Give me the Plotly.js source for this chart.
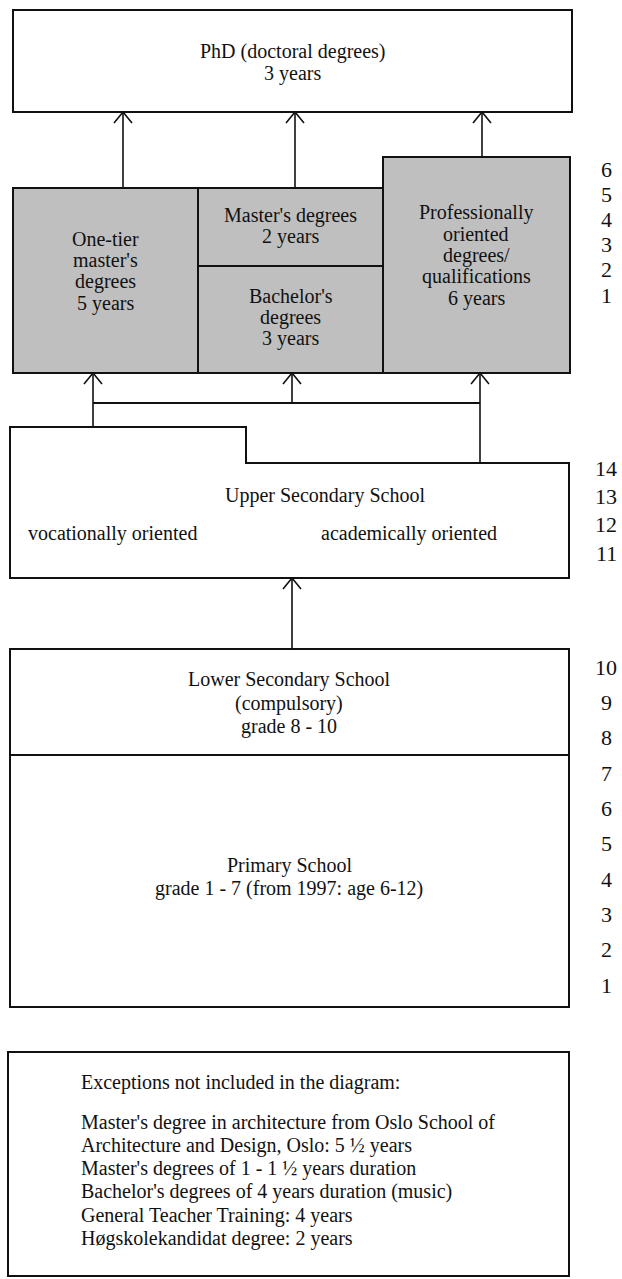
<!DOCTYPE html>
<html>
<head>
<meta charset="utf-8">
<script src="https://cdn.plot.ly/plotly-3.0.1.min.js"></script>
<style>html,body{margin:0;padding:0;background:#fff;}#chart{width:622px;height:1279px;}</style>
</head>
<body>
<div id="chart"></div>
<script>
// ---- content (text and year numbers) ----
const phdLines = ["PhD (doctoral degrees)", "3 years"];
const oneTierLines = ["One-tier", "master's", "degrees", "5 years"];
const mastersLines = ["Master's degrees", "2 years"];
const bachelorLines = ["Bachelor's", "degrees", "3 years"];
const professionalLines = ["Professionally", "oriented", "degrees/", "qualifications", "6 years"];
const upperTitle = "Upper Secondary School";
const upperTracks = ["vocationally oriented", "academically oriented"];
const lowerSecLines = ["Lower Secondary School", "(compulsory)", "grade 8 - 10"];
const primaryLines = ["Primary School", "grade 1 - 7 (from 1997: age 6-12)"];
const higherYears = ["6", "5", "4", "3", "2", "1"];
const upperYears = ["14", "13", "12", "11"];
const schoolYears = ["10", "9", "8", "7", "6", "5", "4", "3", "2", "1"];
const exceptionsTitle = "Exceptions not included in the diagram:";
const exceptionLines = [
  "Master's degree in architecture from Oslo School of",
  "Architecture and Design, Oslo: 5 \u00BD years",
  "Master's degrees of 1 - 1 \u00BD years duration",
  "Bachelor's degrees of 4 years duration (music)",
  "General Teacher Training: 4 years",
  "H\u00F8gskolekandidat degree: 2 years"
];

// ---- geometry of the diagram (pixel-like axis units) ----
const G = {
  leftTop: 13, left: 10, right: 569,
  phd: {y0: 10, y1: 112, right: 572},
  higher: {top: 188, topProf: 157, bottom: 373, div1: 198, div2: 383, mid: 266},
  phdArrowX: [123, 295, 482],
  connY: 403,
  upper: {top: 427, step: 463, stepX: 246, bottom: 578},
  upArrowX: [93, 292, 480],
  lower: {top: 649, div: 755, bottom: 1007},
  exc: {left: 8, top: 1052, bottom: 1276},
  yearX: 606
};
const FONT = "Liberation Serif, Times New Roman, serif";
const INK = "#111";
const GRAY = "#bfbfbf";

const shapes = [];
const annotations = [];

function rect(x0, y0, x1, y1, fill) {
  shapes.push({type: "rect", xref: "x", yref: "y", x0, y0, x1, y1,
    line: {color: INK, width: 2}, fillcolor: fill || "rgba(0,0,0,0)", layer: "below"});
}
function seg(x0, y0, x1, y1, w) {
  shapes.push({type: "line", xref: "x", yref: "y", x0, y0, x1, y1,
    line: {color: INK, width: w || 1.6}});
}
function arrowUp(x, yFrom, yTo) {
  seg(x, yFrom, x, yTo, 1.6);
  shapes.push({type: "path", xref: "x", yref: "y",
    path: `M${x - 9},${yTo + 11} L${x},${yTo} L${x + 9},${yTo + 11}`,
    line: {color: INK, width: 1.6}});
}
function textLines(lines, cx, cy, spacing, anchor, size) {
  const n = lines.length;
  lines.forEach((t, i) => {
    annotations.push({xref: "x", yref: "y", x: cx, y: cy + (i - (n - 1) / 2) * spacing,
      text: t, showarrow: false, xanchor: anchor || "center", yanchor: "middle",
      font: {family: FONT, size: size || 20, color: INK}});
  });
}
function yearColumn(labels, yFirst, yLast) {
  const n = labels.length;
  labels.forEach((t, i) => {
    annotations.push({xref: "x", yref: "y", x: G.yearX,
      y: yFirst + (n > 1 ? i * (yLast - yFirst) / (n - 1) : 0),
      text: t, showarrow: false, xanchor: "center", yanchor: "middle",
      font: {family: FONT, size: 22, color: INK}});
  });
}

// PhD box
rect(G.leftTop, G.phd.y0, G.phd.right, G.phd.y1);
textLines(phdLines, (G.leftTop + G.phd.right) / 2, 62, 22);

// higher education boxes (grey)
const H = G.higher;
rect(G.leftTop, H.top, H.div1, H.bottom, GRAY);
rect(H.div1, H.top, H.div2, H.mid, GRAY);
rect(H.div1, H.mid, H.div2, H.bottom, GRAY);
rect(H.div2, H.topProf, G.right + 1, H.bottom, GRAY);
textLines(oneTierLines, (G.leftTop + H.div1) / 2, 271, 21.5);
textLines(mastersLines, (H.div1 + H.div2) / 2, 226, 21.5);
textLines(bachelorLines, (H.div1 + H.div2) / 2, 317, 21.5);
textLines(professionalLines, (H.div2 + G.right) / 2, 255, 21.5);

// arrows to PhD
arrowUp(G.phdArrowX[0], H.top, G.phd.y1);
arrowUp(G.phdArrowX[1], H.top, G.phd.y1);
arrowUp(G.phdArrowX[2], H.topProf, G.phd.y1);

// connector from upper secondary to higher education
const U = G.upper;
seg(G.upArrowX[0], G.connY, G.upArrowX[2], G.connY, 1.8);
arrowUp(G.upArrowX[0], U.top, H.bottom);
arrowUp(G.upArrowX[1], G.connY, H.bottom);
arrowUp(G.upArrowX[2], U.step, H.bottom);

// upper secondary stepped box
shapes.push({type: "path", xref: "x", yref: "y",
  path: `M${G.left},${U.top} L${U.stepX},${U.top} L${U.stepX},${U.step} L${G.right},${U.step} L${G.right},${U.bottom} L${G.left},${U.bottom} Z`,
  line: {color: INK, width: 2}, fillcolor: "rgba(0,0,0,0)"});
textLines([upperTitle], 325, 495, 22);
textLines([upperTracks[0]], 26, 533, 22, "left");
textLines([upperTracks[1]], 319, 533, 22, "left");

// arrow from lower secondary to upper secondary
arrowUp(G.upArrowX[1], G.lower.top, U.bottom);

// lower secondary + primary
const L = G.lower;
rect(G.left, L.top, G.right, L.div);
rect(G.left, L.div, G.right, L.bottom);
textLines(lowerSecLines, 289, 703, 23.5);
textLines(primaryLines, 289, 877, 23.5);

// year columns
yearColumn(higherYears, 169, 295);
yearColumn(upperYears, 468, 553);
yearColumn(schoolYears, 667, 985);

// exceptions box
rect(G.exc.left, G.exc.top, G.right, G.exc.bottom);
textLines([exceptionsTitle], 79, 1082, 23, "left");
exceptionLines.forEach((t, i) => textLines([t], 79, 1122 + i * 23.3, 23, "left"));

const layout = {
  width: 622, height: 1279,
  margin: {l: 0, r: 0, t: 0, b: 0, pad: 0},
  paper_bgcolor: "#fff", plot_bgcolor: "#fff",
  showlegend: false,
  xaxis: {range: [0, 622], visible: false, fixedrange: true},
  yaxis: {range: [1279, 0], visible: false, fixedrange: true},
  shapes, annotations
};
Plotly.newPlot("chart", [{x: [], y: [], type: "scatter", mode: "markers", hoverinfo: "skip"}], layout,
  {displayModeBar: false, staticPlot: true});
</script>
</body>
</html>
